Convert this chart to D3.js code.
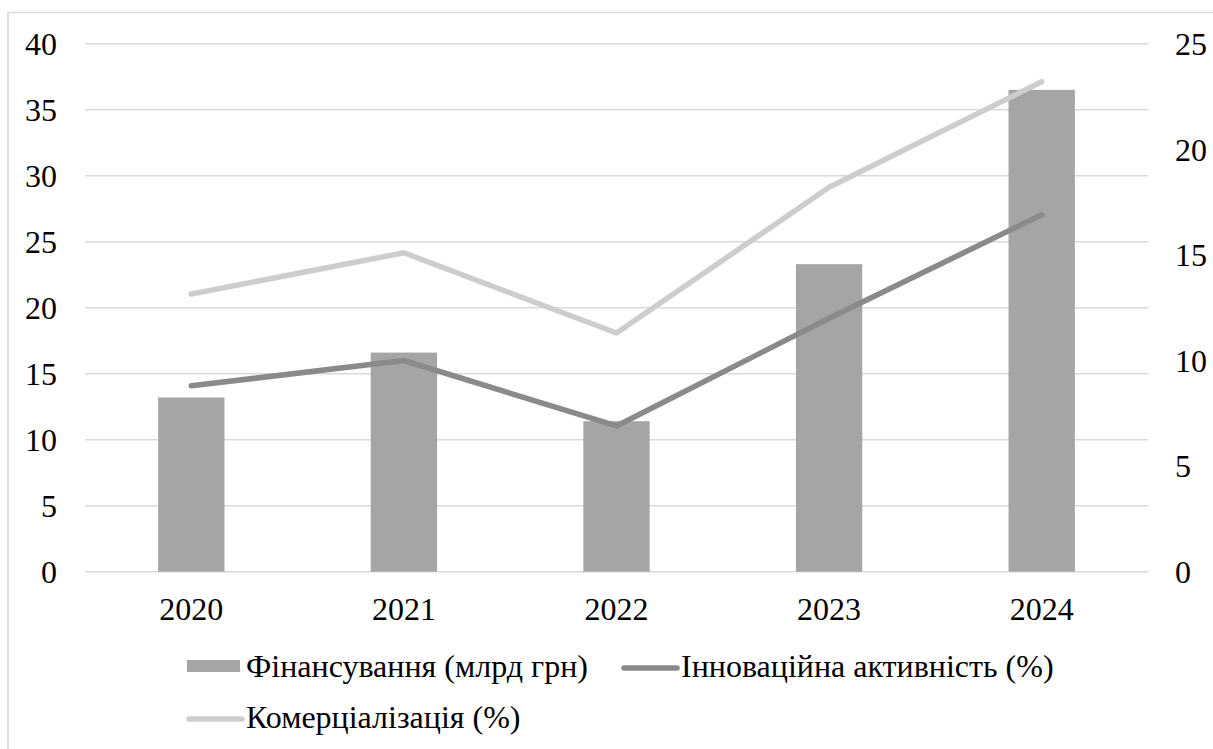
<!DOCTYPE html>
<html>
<head>
<meta charset="utf-8">
<script src="https://cdn.jsdelivr.net/npm/d3@7"></script>
<style>
  html, body { margin: 0; padding: 0; background: #fff; }
</style>
</head>
<body>
<svg id="chart" width="1213" height="749"></svg>
<script>
// Chart data
const years = ["2020", "2021", "2022", "2023", "2024"];
const funding = [13.2, 16.6, 11.4, 23.3, 36.5];          // млрд грн, left axis
const innovation = [8.8, 10.0, 6.9, 12.0, 16.9];         // %, right axis
const commercialization = [13.15, 15.1, 11.3, 18.2, 23.2]; // %, right axis
const leftTicks = [0, 5, 10, 15, 20, 25, 30, 35, 40];
const rightTicks = [0, 5, 10, 15, 20, 25];
const seriesNames = ["Фінансування (млрд грн)", "Інноваційна активність (%)", "Комерціалізація (%)"];

const colors = { bar: "#a5a5a5", inno: "#8a8a8a", comm: "#cdcdcd", grid: "#d9d9d9" };
const serif = "Liberation Serif";

const svg = d3.select("#chart");
const plot = { left: 85, right: 1148, top: 43.7, bottom: 571.7 };
const fontSize = 32;

// Outer chart frame
svg.append("rect")
  .attr("x", 8).attr("y", 12.5)
  .attr("width", 1230).attr("height", 760)
  .attr("fill", "none").attr("stroke", colors.grid).attr("stroke-width", 1.6);

const x = d3.scaleBand().domain(years).range([plot.left, plot.right]).padding(0);
const yL = d3.scaleLinear().domain([0, 40]).range([plot.bottom, plot.top]);
const yR = d3.scaleLinear().domain([0, 25]).range([plot.bottom, plot.top]);

// Horizontal gridlines
svg.append("g").selectAll("line").data(leftTicks).join("line")
  .attr("x1", plot.left).attr("x2", plot.right)
  .attr("y1", d => yL(d)).attr("y2", d => yL(d))
  .attr("stroke", colors.grid).attr("stroke-width", 1.4);

function styleLabels(sel) {
  sel.select(".domain").remove();
  sel.attr("font-family", serif).attr("font-size", fontSize);
  sel.selectAll("text").style("font-family", serif).attr("font-size", fontSize).attr("fill", "#000");
}

// Left axis labels
const axL = svg.append("g").attr("transform", `translate(57,0)`)
  .call(d3.axisLeft(yL).tickValues(leftTicks).tickSize(0).tickPadding(0));
styleLabels(axL);
axL.selectAll("text").attr("dy", "0.34em");

// Right axis labels
const axR = svg.append("g").attr("transform", `translate(1175,0)`)
  .call(d3.axisRight(yR).tickValues(rightTicks).tickSize(0).tickPadding(0));
styleLabels(axR);
axR.selectAll("text").attr("dy", "0.34em");

// Category labels
const axX = svg.append("g").attr("transform", `translate(0,${plot.bottom})`)
  .call(d3.axisBottom(x).tickSize(0).tickPadding(0));
styleLabels(axX);
axX.selectAll("text").attr("y", 48).attr("dy", 0);

// Bars
const barW = x.bandwidth() * 0.312;
svg.append("g").selectAll("rect").data(years.map((y, i) => ({ y, v: funding[i] }))).join("rect")
  .attr("x", d => x(d.y) + x.bandwidth() / 2 - barW / 2)
  .attr("width", barW)
  .attr("y", d => yL(d.v))
  .attr("height", d => yL(0) - yL(d.v))
  .attr("fill", colors.bar);

// Lines
const line = d3.line().x((d, i) => x(years[i]) + x.bandwidth() / 2).y(d => yR(d));
svg.append("path").datum(innovation).attr("d", line)
  .attr("fill", "none").attr("stroke", colors.inno).attr("stroke-width", 5.5)
  .attr("stroke-linecap", "round").attr("stroke-linejoin", "round");
svg.append("path").datum(commercialization).attr("d", line)
  .attr("fill", "none").attr("stroke", colors.comm).attr("stroke-width", 5.5)
  .attr("stroke-linecap", "round").attr("stroke-linejoin", "round");

// Legend
const legend = svg.append("g").attr("font-family", serif);
const items = [
  { name: seriesNames[0], type: "rect", color: colors.bar, x: 187, y: 666 },
  { name: seriesNames[1], type: "line", color: colors.inno, x: 622, y: 668 },
  { name: seriesNames[2], type: "line", color: colors.comm, x: 187, y: 719 }
];
items.forEach(it => {
  const g = legend.append("g").attr("transform", `translate(${it.x},${it.y})`);
  if (it.type === "rect") {
    g.append("rect").attr("x", 0).attr("y", -6).attr("width", 53).attr("height", 12).attr("fill", it.color);
  } else {
    g.append("line").attr("x1", 2).attr("x2", 55).attr("y1", 0).attr("y2", 0)
      .attr("stroke", it.color).attr("stroke-width", 5.5).attr("stroke-linecap", "round");
  }
  g.append("text").attr("x", 59).attr("y", it.type === "rect" ? 0 : -2).attr("dy", "0.33em")
    .style("font-family", serif).attr("font-size", fontSize).attr("fill", "#000").text(it.name);
});
</script>
</body>
</html>
